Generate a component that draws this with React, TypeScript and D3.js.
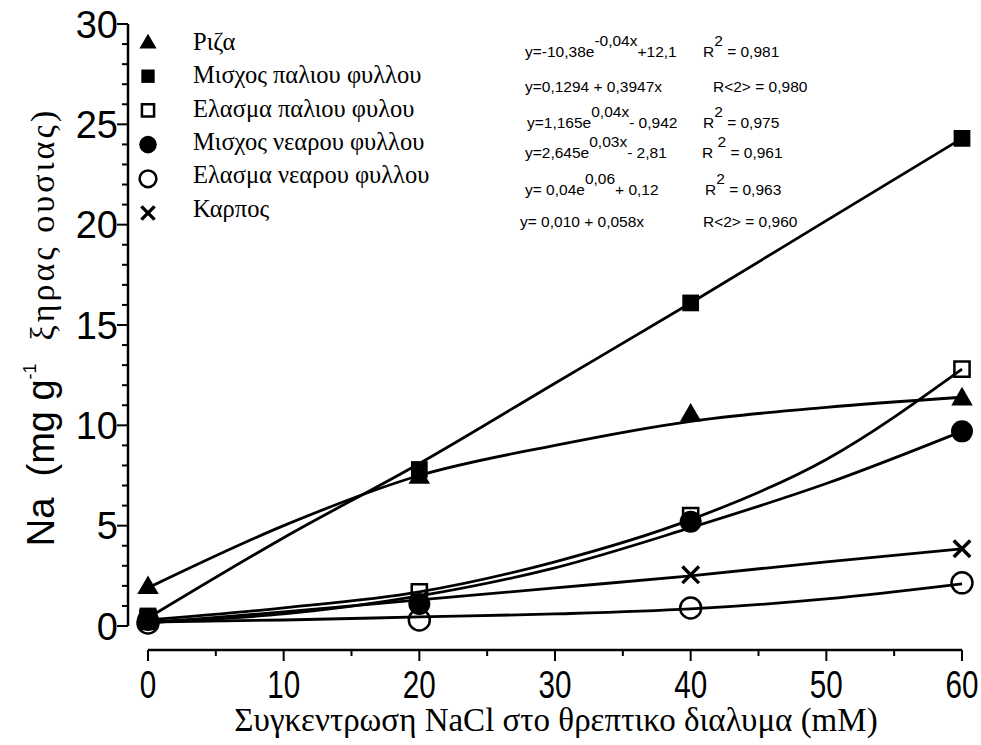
import React from 'react';
import * as d3 from 'd3';

// NaCl concentration (mM) where samples were taken
const nacl = [0, 20, 40, 60];
const curveX = [0, 10, 20, 30, 40, 50, 60];

// measured Na (mg g-1 dry matter)
const riza = [2.0, 7.5, 10.6, 11.4];
const mischosPalaiou = [0.5, 7.8, 16.1, 24.3];
const elasmaPalaiou = [0.4, 1.7, 5.5, 12.8];
const mischosNearou = [0.3, 1.1, 5.2, 9.7];
const elasmaNearou = [0.15, 0.3, 0.9, 2.15];
const karpos = [0.2, 1.3, 2.55, 3.85];

// trend curves as drawn in the figure
const rizaCurve = [1.9, 5.0, 7.5, 9.0, 10.2, 10.9, 11.4];
const mischosPalaiouCurve = [0.4, 4.4, 8.1, 12.1, 16.1, 20.2, 24.3];
const elasmaPalaiouCurve = [0.3, 0.9, 1.7, 3.2, 5.3, 8.3, 12.8];
const mischosNearouCurve = [0.2, 0.6, 1.5, 2.9, 4.9, 7.1, 9.7];
const elasmaNearouCurve = [0.2, 0.3, 0.45, 0.6, 0.85, 1.35, 2.1];
const karposCurve = [0.15, 0.7, 1.3, 1.9, 2.5, 3.2, 3.85];

const seriesNames = [
  'Ριζα',
  'Μισχος παλιου φυλλου',
  'Ελασμα παλιου φυλου',
  'Μισχος νεαρου φυλλου',
  'Ελασμα νεαρου φυλλου',
  'Καρπος',
];
const markers = ['triangle', 'square', 'squareOpen', 'circle', 'circleOpen', 'times'];

const series = [
  { name: seriesNames[0], marker: markers[0], values: riza, curve: rizaCurve },
  { name: seriesNames[1], marker: markers[1], values: mischosPalaiou, curve: mischosPalaiouCurve },
  { name: seriesNames[2], marker: markers[2], values: elasmaPalaiou, curve: elasmaPalaiouCurve },
  { name: seriesNames[3], marker: markers[3], values: mischosNearou, curve: mischosNearouCurve },
  { name: seriesNames[4], marker: markers[4], values: elasmaNearou, curve: elasmaNearouCurve },
  { name: seriesNames[5], marker: markers[5], values: karpos, curve: karposCurve },
];

// regression equations printed on the chart: [main, superscript, tail, R label, R sup, R value]
const equations = [
  ['y=-10,38e', '-0,04x', '+12,1', 'R', '2', ' = 0,981'],
  ['y=0,1294 + 0,3947x', '', '', 'R<2> = 0,980', '', ''],
  ['y=1,165e', '0,04x', '- 0,942', 'R', '2', ' = 0,975'],
  ['y=2,645e', '0,03x', '- 2,81', 'R ', '2', ' = 0,961'],
  ['y= 0,04e', '0,06', '+ 0,12', 'R', '2', ' = 0,963'],
  ['y= 0,010 + 0,058x', '', '', 'R<2> = 0,960', '', ''],
];

const W = 981;
const H = 745;
const SANS = '"Liberation Sans", Arial, sans-serif';
const SERIF = '"Liberation Serif", "Times New Roman", serif';

const x = d3.scaleLinear().domain([0, 60]).range([148, 962]);
const y = d3.scaleLinear().domain([0, 30]).range([626, 24]);
const yAxisX = 128;
const xAxisY = 650;

const Marker = ({ kind, cx, cy, scale = 1 }: { kind: string; cx: number; cy: number; scale?: number }) => {
  const t = `translate(${cx},${cy})`;
  if (kind === 'triangle') {
    const p = d3.symbol().type(d3.symbolTriangle).size(200 * scale * scale)();
    return <path d={p!} transform={`translate(${cx},${cy + 2 * scale})`} fill="#000" />;
  }
  if (kind === 'square') {
    const p = d3.symbol().type(d3.symbolSquare).size(280 * scale * scale)();
    return <path d={p!} transform={t} fill="#000" />;
  }
  if (kind === 'squareOpen') {
    const p = d3.symbol().type(d3.symbolSquare).size(230 * scale * scale)();
    return <path d={p!} transform={t} fill="none" stroke="#000" strokeWidth={2.5} />;
  }
  if (kind === 'circle') {
    return <circle cx={cx} cy={cy} r={11 * scale} fill="#000" />;
  }
  if (kind === 'circleOpen') {
    return <circle cx={cx} cy={cy} r={10.5 * scale} fill="none" stroke="#000" strokeWidth={2.5} />;
  }
  const p = d3.symbol().type(d3.symbolTimes).size(180 * scale * scale)();
  return <path d={p!} transform={t} fill="none" stroke="#000" strokeWidth={3.4} />;
};

const App = () => {
  const line = d3
    .line<number>()
    .x((_, i) => x(curveX[i]))
    .y((d) => y(d))
    .curve(d3.curveMonotoneX);

  const yTicks = d3.range(0, 31, 1);
  const xTicks = d3.range(0, 61, 5);

  return (
    <div style={{ position: 'absolute', left: 0, top: 0 }}>
      <svg width={W} height={H} viewBox={`0 0 ${W} ${H}`} style={{ display: 'block', background: '#fff' }}>
        <rect width={W} height={H} fill="#fff" />

        {/* y axis */}
        <line x1={yAxisX} x2={yAxisX} y1={y(0)} y2={y(30)} stroke="#000" strokeWidth={2.5} />
        {yTicks.map((t) => (
          <line key={t} x1={yAxisX} x2={yAxisX - (t % 5 === 0 ? 11 : 6)} y1={y(t)} y2={y(t)} stroke="#000" strokeWidth={2} />
        ))}
        {yTicks.filter((t) => t % 5 === 0).map((t) => (
          <text key={t} x={yAxisX - 10} y={y(t)} dy="0.36em" textAnchor="end" fontFamily={SANS} fontSize={38}>
            {t}
          </text>
        ))}

        {/* x axis */}
        <line x1={x(0)} x2={x(60)} y1={xAxisY} y2={xAxisY} stroke="#000" strokeWidth={2.5} />
        {xTicks.map((t) => (
          <line key={t} x1={x(t)} x2={x(t)} y1={xAxisY} y2={xAxisY + (t % 10 === 0 ? 11 : 6)} stroke="#000" strokeWidth={2} />
        ))}
        {xTicks.filter((t) => t % 10 === 0).map((t) => (
          <text
            key={t}
            transform={`translate(${x(t)},${xAxisY + 48}) scale(0.78,1)`}
            textAnchor="middle"
            fontFamily={SANS}
            fontSize={38}
          >
            {t}
          </text>
        ))}

        {/* axis titles */}
        <text x={556} y={731} textAnchor="middle" fontFamily={SERIF} fontSize={33}>
          Συγκεντρωση NaCl στο θρεπτικο διαλυμα (mM)
        </text>
        <text transform="translate(54,327) rotate(-90)" textAnchor="middle" style={{ whiteSpace: 'pre' }}>
          <tspan fontFamily={SANS} fontSize={38}>Na  (mg g</tspan>
          <tspan fontFamily={SANS} fontSize={18} dy={-18}>-1</tspan>
          <tspan fontFamily={SERIF} fontSize={34} dy={18} letterSpacing={3}>  ξηρας ουσιας)</tspan>
        </text>

        {/* trend curves */}
        {series.map((s) => (
          <path key={s.name} d={line(s.curve)!} fill="none" stroke="#000" strokeWidth={2.8} />
        ))}

        {/* data points */}
        {series.map((s) =>
          s.values.map((v, i) => <Marker key={s.name + i} kind={s.marker} cx={x(nacl[i])} cy={y(v)} />)
        )}

        {/* legend */}
        {series.map((s, i) => (
          <g key={s.name}>
            <Marker kind={s.marker} cx={148} cy={42 + i * 34.2} scale={0.8} />
            <text x={193} y={50 + i * 33.3} fontFamily={SERIF} fontSize={24.5}>
              {s.name}
            </text>
          </g>
        ))}

        {/* equations */}
        {equations.map((e, i) => {
          const baselines = [57, 92, 128, 158, 195, 227];
          const starts = [525, 525, 527, 525, 525, 520];
          const rStarts = [703, 713, 703, 702, 705, 703];
          return (
            <g key={i} fontFamily={SANS} fontSize={15.5}>
              <text x={starts[i]} y={baselines[i]} style={{ whiteSpace: 'pre' }}>
                {e[0]}
                {e[1] && <tspan dy={-11}>{e[1]}</tspan>}
                {e[2] && <tspan dy={11}>{e[2]}</tspan>}
              </text>
              <text x={rStarts[i]} y={baselines[i]} style={{ whiteSpace: 'pre' }}>
                {e[3]}
                {e[4] && <tspan dy={-11}>{e[4]}</tspan>}
                {e[5] && <tspan dy={11}>{e[5]}</tspan>}
              </text>
            </g>
          );
        })}
      </svg>
    </div>
  );
};

export default App;
